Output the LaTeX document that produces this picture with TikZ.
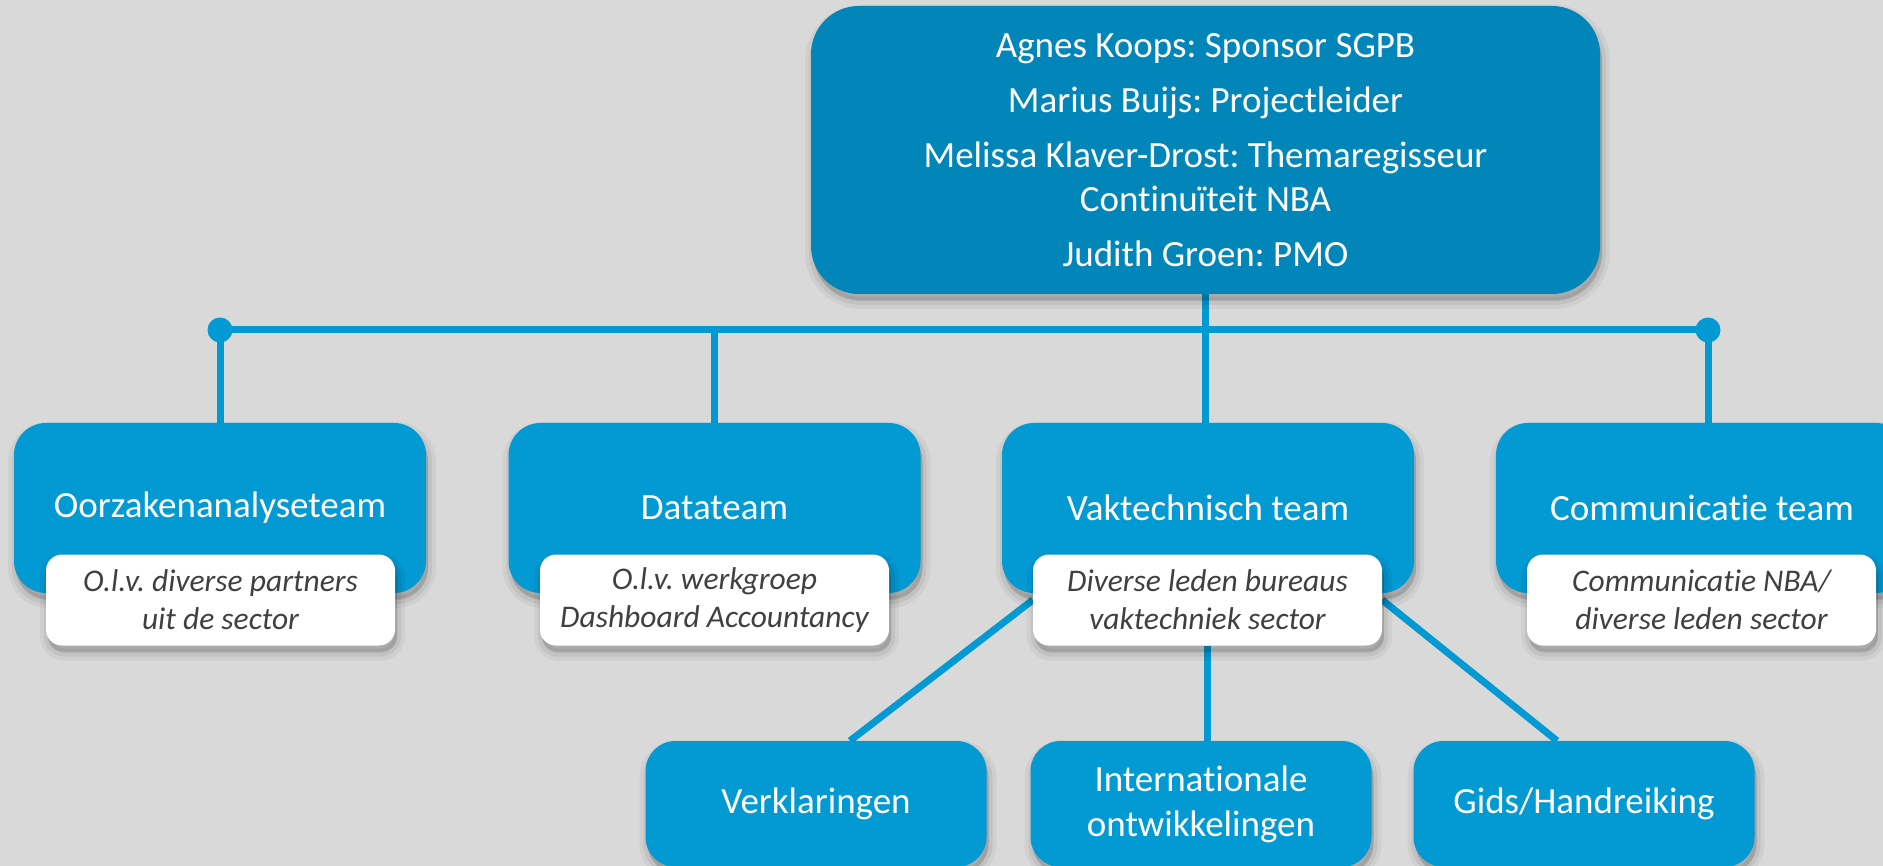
\documentclass[tikz,border=0pt]{standalone}
\usepackage{fontspec}
\setmainfont{Carlito}[Ligatures={NoCommon}]
\usetikzlibrary{calc}
\definecolor{bgray}{HTML}{D9D9D9}
\definecolor{topblue}{HTML}{0285B9}
\definecolor{teamblue}{HTML}{0399D3}
\definecolor{notegray}{HTML}{404040}
\pgfdeclarelayer{bg}
\pgfdeclarelayer{lines}
\pgfsetlayers{bg,lines,main}
\frenchspacing

\begin{document}
\begin{tikzpicture}[x=1pt,y=-1pt,
    softshadow/.style={
        preaction={fill=black, draw=black, line width=16pt, opacity=0.045,
            transform canvas={xshift=2pt, yshift=-7pt}},
        preaction={fill=black, draw=black, line width=8pt, opacity=0.06,
            transform canvas={xshift=2pt, yshift=-7pt}},
        preaction={fill=black, opacity=0.08,
            transform canvas={xshift=2pt, yshift=-6pt}}},
    board/.style={fill=topblue, text=white, rounded corners=48pt, align=center,
        minimum width=789pt, minimum height=288pt, softshadow,
        font=\fontsize{37}{44}\selectfont},
    team/.style={fill=teamblue, text=white, rounded corners=32pt, align=center,
        minimum width=412pt, minimum height=170pt, softshadow,
        font=\fontsize{37}{45}\selectfont},
    note/.style={fill=white, text=notegray, rounded corners=16pt, align=center,
        minimum width=349pt, minimum height=91pt, softshadow,
        font=\fontsize{31.5}{38}\selectfont\itshape},
    subteam/.style={fill=teamblue, text=white, rounded corners=30pt, align=center,
        minimum width=341pt, minimum height=126pt, softshadow,
        font=\fontsize{37}{45}\selectfont},
    link/.style={draw=teamblue, line width=7pt}]

    \useasboundingbox (0,0) rectangle (1883,866);
    \begin{pgfonlayer}{bg}
        \fill[bgray] (0,0) rectangle (1883,866);
    \end{pgfonlayer}

    % stuurgroep
    \node[board] (sg) at (1205.5,150) {Agnes Koops: Sponsor SGPB\\[11pt]
        Marius Buijs: Projectleider\\[11pt]
        Melissa Klaver-Drost: Themaregisseur\\Continuïteit NBA\\[11pt]
        Judith Groen: PMO};

    % teams
    \node[team] (oorz) at (220,508) {Oorzakenanalyseteam};
    \node[team] (data) at (714.5,508) {Datateam};
    \node[team] (vak) at (1208,508) {Vaktechnisch team};
    \node[team] (comm) at (1702,508) {Communicatie team};

    \node[note] (oorzinfo) at (220.5,600) {O.l.v. diverse partners\\uit de sector};
    \node[note] (datainfo) at (714.5,600) {O.l.v. werkgroep\\Dashboard Accountancy};
    \node[note] (vakinfo) at (1207.5,600) {Diverse leden bureaus\\vaktechniek sector};
    \node[note] (comminfo) at (1701.5,600) {Communicatie NBA/\\diverse leden sector};

    % onderdelen vaktechniek
    \node[subteam] (verkl) at (816,804) {Verklaringen};
    \node[subteam] (intl) at (1201,804) {Internationale\\ontwikkelingen};
    \node[subteam] (gids) at (1584,804) {Gids/Handreiking};

    \coordinate (barL) at (220,330);
    \coordinate (barR) at (1708,330);

    \begin{pgfonlayer}{lines}
        \draw[link] (barL) -- (barR);
        \fill[teamblue] (barL) circle (12.5pt);
        \fill[teamblue] (barR) circle (12.5pt);
        \draw[link] (barL) -- (oorz.north);
        \draw[link] (data.north |- barL) -- (data.north);
        \draw[link] (barR) -- (barR |- comm.north);
        \draw[link] (sg.south) -- (sg.south |- vak.north);
        \draw[link] (vakinfo.west) -- ($(verkl.north)+(34,0)$);
        \draw[link] (vakinfo.south) -- (vakinfo.south |- intl.north);
        \draw[link] (vakinfo.east) -- ($(gids.north)+(-27,0)$);
    \end{pgfonlayer}
\end{tikzpicture}
\end{document}
